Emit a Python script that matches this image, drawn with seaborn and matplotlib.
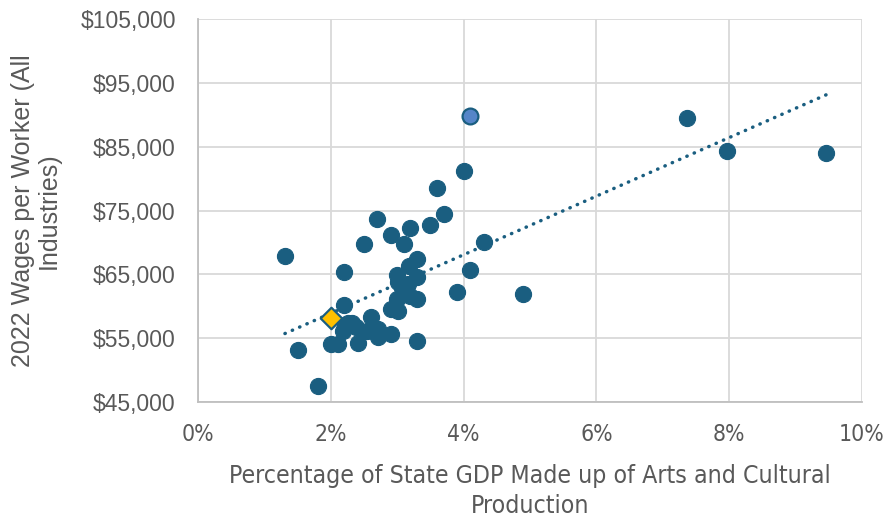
import matplotlib
matplotlib.use("Agg")
import matplotlib.pyplot as plt
import seaborn as sns
import numpy as np
import pandas as pd
import os
from matplotlib.ticker import FuncFormatter
from matplotlib import font_manager as fm

# Share of state GDP from arts & cultural production (%), wages per worker ($)
pct = [4.00, 3.60, 3.70, 2.70, 3.50, 3.20, 2.90, 3.10, 2.50, 4.30,
       1.31, 3.30, 3.18, 2.20, 4.10, 3.00, 3.30, 3.01, 3.16, 3.08,
       3.90, 3.30, 3.19, 3.00, 2.20, 2.90, 3.01, 2.60, 2.26, 2.38,
       2.19, 2.54, 2.71, 2.71, 2.90, 2.00, 2.11, 2.41, 3.30, 1.51,
       1.81, 7.37, 7.97, 9.46, 4.89, 2.32, 2.22]
wages = [81230, 78530, 74490, 73700, 72770, 72300, 71160, 69750, 69700, 70060,
         67880, 67370, 66330, 65390, 65700, 64870, 64520, 63830, 63470, 62800,
         62180, 61140, 61650, 61140, 60250, 59580, 59220, 58290, 57400, 56730,
         56200, 56050, 56460, 55170, 55690, 54130, 54130, 54280, 54550, 53190,
         47540, 89490, 84350, 84030, 61920, 57300, 57000]
# Highlighted points
hl_light_pct, hl_light_wage = [4.09], [89800]
hl_diamond_pct, hl_diamond_wage = [2.00], [58180]

x_ticks = [0, 2, 4, 6, 8, 10]
y_ticks = [45000, 55000, 65000, 75000, 85000, 95000, 105000]

sns.set_theme(style="white")
plt.rcParams['font.family'] = ['Liberation Sans', 'DejaVu Sans']

# find a regular-weight narrow / condensed font for the x-axis texts
bad = ("bold", "italic", "oblique", "light", "thin", "medium", "black",
       "semi", "extra", "heavy")
cands = []
for f in fm.findSystemFonts():
    base = os.path.basename(f).lower()
    if ("narrow" in base or "condensed" in base) and not any(b in base for b in bad):
        rank = 0 if "liberationsansnarrow" in base else (
            1 if "dejavusanscondensed" in base else 2)
        cands.append((rank, f))
cands.sort()
narrow_fp = cands[0][1] if cands else None
if narrow_fp:
    xprop_ticks = fm.FontProperties(fname=narrow_fp, size=16.5)
    xprop_label = fm.FontProperties(fname=narrow_fp, size=17.8)
else:
    xprop_ticks = fm.FontProperties(family="Liberation Sans", size=15)
    xprop_label = fm.FontProperties(family="Liberation Sans", size=16)

df = pd.DataFrame({"pct": pct + hl_light_pct + hl_diamond_pct,
                   "wage": wages + hl_light_wage + hl_diamond_wage})
main = pd.DataFrame({"pct": pct, "wage": wages})

fig = plt.figure(figsize=(8.85, 5.19), dpi=100)
ax = fig.add_axes([0.2237, 0.2254, 0.974 - 0.2237, 0.9634 - 0.2254])

dark = "#1A5E80"
sns.scatterplot(data=main, x="pct", y="wage", ax=ax, s=135, color=dark,
                edgecolor=dark, linewidth=0.8, zorder=3)
sns.scatterplot(x=hl_light_pct, y=hl_light_wage, ax=ax, s=130, color="#5585C8",
                edgecolor=dark, linewidth=1.6, zorder=4)
sns.regplot(data=df, x="pct", y="wage", ax=ax, scatter=False, ci=None,
            color=dark, line_kws=dict(linestyle=(0, (0.1, 2.2)), linewidth=2.5,
                                      dash_capstyle="round", zorder=2))
sns.scatterplot(x=hl_diamond_pct, y=hl_diamond_wage, ax=ax, s=120, marker="D",
                color="#FFC000", edgecolor=dark, linewidth=1.6, zorder=5)

ax.set_xlim(0, 10)
ax.set_ylim(45000, 105000)
ax.set_xticks(x_ticks)
ax.set_yticks(y_ticks)
ax.xaxis.set_major_formatter(FuncFormatter(lambda v, p: f"{v:.0f}%"))
ax.yaxis.set_major_formatter(FuncFormatter(lambda v, p: f"${v:,.0f}"))
ax.grid(True, color="#D9D9D9", linewidth=1.3)
ax.set_axisbelow(True)
for sp in ["top", "right"]:
    ax.spines[sp].set_visible(False)
for sp in ["left", "bottom"]:
    ax.spines[sp].set_color("#BFBFBF")
    ax.spines[sp].set_linewidth(1.3)

ax.tick_params(axis="y", labelsize=16.5, labelcolor="#595959", length=0, pad=16)
ax.tick_params(axis="x", labelcolor="#595959", length=0, pad=15)
for lbl in ax.get_xticklabels():
    lbl.set_fontproperties(xprop_ticks)

ax.set_xlabel("Percentage of State GDP Made up of Arts and Cultural\nProduction",
              fontproperties=xprop_label, color="#595959", labelpad=13,
              linespacing=1.3)
ax.set_ylabel("2022 Wages per Worker (All\nIndustries)", fontsize=18,
              color="#595959", labelpad=14, linespacing=1.1)

fig.savefig("out.png", dpi=100)
